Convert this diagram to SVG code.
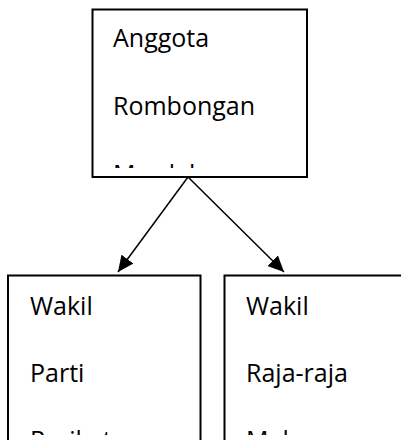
<svg xmlns="http://www.w3.org/2000/svg" width="401" height="440" viewBox="0 0 401 440">
<style>
.box{fill:#fff;stroke:#000;stroke-width:2}
.t{font-family:"Open Sans","Noto Sans",sans-serif;font-size:25px;fill:#000}
.c{stroke:#000;stroke-width:1.5;fill:none}
</style>
<defs>
<marker id="arr" viewBox="0 0 16 15" refX="16" refY="7.5" markerWidth="16" markerHeight="15" markerUnits="userSpaceOnUse" orient="auto">
<path d="M0,0 L16,7.5 L0,15 z" fill="#000"/>
</marker>
<clipPath id="c1"><rect x="93" y="10" width="213" height="158"/></clipPath>
<clipPath id="c2"><rect x="9" y="276" width="190" height="159"/></clipPath>
<clipPath id="c3"><rect x="225" y="276" width="176" height="159"/></clipPath>
</defs>
<g id="node-top">
<rect class="box" x="92.5" y="9.5" width="214.5" height="167.5"/>
<g clip-path="url(#c1)">
<text class="t" x="113" y="47">Anggota</text>
<text class="t" x="113" y="115">Rombongan</text>
<text class="t" x="113" y="183">Merdeka</text>
</g>
</g>
<g id="node-left">
<rect class="box" x="8" y="275.5" width="192.5" height="170"/>
<g clip-path="url(#c2)">
<text class="t" x="30" y="315">Wakil</text>
<text class="t" x="30" y="382">Parti</text>
<text class="t" x="30" y="449">Perikatan</text>
</g>
</g>
<g id="node-right">
<rect class="box" x="224.5" y="275.5" width="190" height="170"/>
<g clip-path="url(#c3)">
<text class="t" x="246" y="315">Wakil</text>
<text class="t" x="246" y="382">Raja-raja</text>
<text class="t" x="246" y="449">Melayu</text>
</g>
</g>
<g id="connectors">
<line class="c" x1="188" y1="177" x2="118" y2="272" marker-end="url(#arr)"/>
<line class="c" x1="188" y1="177" x2="284" y2="272" marker-end="url(#arr)"/>
</g>
</svg>
